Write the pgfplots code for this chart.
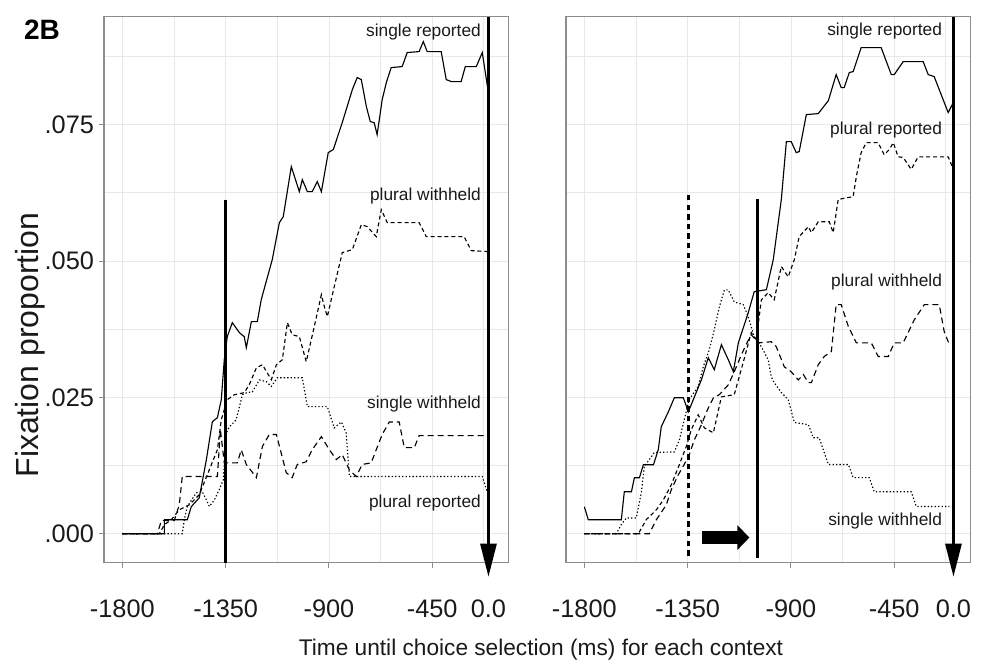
\documentclass[border=0pt]{standalone}
\usepackage{fontspec}
\setmainfont{Liberation Sans}
\usepackage{pgfplots}
\pgfplotsset{compat=1.18}
\usetikzlibrary{arrows.meta}

\definecolor{gridgray}{HTML}{E8E8E8}
\definecolor{framegray}{HTML}{8C8C8C}
\definecolor{txt}{HTML}{1A1A1A}

\pgfplotsset{panel/.style={
  width=303.5pt, height=409.5pt, scale only axis,
  xmin=-1880, xmax=-117, ymin=-0.0053, ymax=0.0948,
  scaled x ticks=false, scaled y ticks=false,
  xtick={-1800,-1350,-900,-450}, xticklabels={-1800,-1350,-900,-450},
  minor xtick={-1575,-1125,-675,-225},
  ytick={0,0.025,0.05,0.075},
  minor ytick={0.0125,0.0375,0.0625,0.0875},
  grid=both,
  major grid style={gridgray, line width=0.6pt},
  minor grid style={gridgray, line width=0.6pt},
  axis line style={framegray, line width=0.8pt},
  tick style={framegray, line width=0.7pt},
  major tick length=4pt, minor tick length=0pt,
  tick align=outside, xtick pos=bottom, ytick pos=left,
  ticklabel style={font=\fontsize{19}{22}\selectfont, text=txt},
  xticklabel style={yshift=-20pt},
  extra x tick style={grid=none, tick style={draw=none}},
  clip=false,
  every axis plot/.append style={line width=0.85pt, black, mark=none},
}}

\tikzset{
  dashA/.style={dash pattern=on 3pt off 2.2pt},
  dashB/.style={dash pattern=on 4.5pt off 3pt},
  dotC/.style={dash pattern=on 1pt off 1.6pt},
  ann/.style={font=\fontsize{13}{15}\selectfont, text=txt, anchor=east, inner sep=0pt},
}

\begin{document}
\begin{tikzpicture}
\path[use as bounding box] (0,0) rectangle (735.75pt,499.5pt);

% ---------------- left panel ----------------
\begin{axis}[panel, at={(78pt,77.5pt)}, anchor=south west,
  yticklabels={.000,.025,.050,.075},
  extra x ticks={-205}, extra x tick labels={0.0}]
% single reported
\addplot[solid] coordinates {(-1800,0) (-1617,0) (-1617,0.00257) (-1517,0.00257) (-1500,0.00495) (-1465,0.0066) (-1434,0.01357) (-1408,0.02054) (-1386,0.02127) (-1369,0.02458) (-1356,0.03191) (-1343,0.03613) (-1321,0.0387) (-1290,0.03686) (-1269,0.03613) (-1260,0.03411) (-1238,0.03888) (-1212,0.03888) (-1195,0.04292) (-1147,0.05025) (-1116,0.05704) (-1099,0.05814) (-1064,0.06731) (-1029,0.06272) (-1016,0.06492) (-994,0.06272) (-973,0.06272) (-951,0.06456) (-933,0.06272) (-903,0.06988) (-881,0.07043) (-842,0.07538) (-798,0.08143) (-777,0.08363) (-759,0.08326) (-737,0.07831) (-720,0.07556) (-703,0.07538) (-690,0.07318) (-668,0.0796) (-650,0.08271) (-629,0.08546) (-581,0.08565) (-559,0.08822) (-507,0.0884) (-489,0.09023) (-472,0.0884) (-411,0.0884) (-389,0.08326) (-367,0.0829) (-324,0.0829) (-306,0.08565) (-258,0.08565) (-232,0.08822) (-206,0.08106)};
% plural withheld
\addplot[dashA] coordinates {(-1800,0) (-1639,0) (-1617,0.00165) (-1587,0.00257) (-1552,0.0044) (-1508,0.00532) (-1465,0.00715) (-1421,0.01174) (-1386,0.01541) (-1369,0.02091) (-1343,0.02458) (-1312,0.02549) (-1269,0.02586) (-1247,0.02733) (-1216,0.03044) (-1190,0.03099) (-1151,0.02824) (-1129,0.03099) (-1103,0.03191) (-1081,0.0387) (-1060,0.0365) (-1029,0.03613) (-999,0.03154) (-964,0.03796) (-933,0.04383) (-920,0.04163) (-907,0.0398) (-885,0.04383) (-842,0.05154) (-798,0.05209) (-759,0.05667) (-733,0.0563) (-694,0.05447) (-672,0.05942) (-646,0.05704) (-507,0.05704) (-476,0.05447) (-311,0.05447) (-280,0.0519) (-202,0.05172)};
% single withheld
\addplot[dashB] coordinates {(-1800,0) (-1648,0) (-1630,0.0024) (-1574,0.0024) (-1552,0.0053) (-1539,0.0105) (-1386,0.0105) (-1373,0.0191) (-1356,0.0130) (-1299,0.0130) (-1282,0.0154) (-1260,0.0127) (-1216,0.0103) (-1190,0.0160) (-1160,0.0182) (-1129,0.0182) (-1086,0.0112) (-1060,0.0103) (-1038,0.0127) (-999,0.0132) (-973,0.0154) (-933,0.0178) (-898,0.0154) (-868,0.0136) (-842,0.0145) (-811,0.0117) (-781,0.0105) (-755,0.0127) (-716,0.0130) (-694,0.0154) (-668,0.0182) (-637,0.0205) (-594,0.0205) (-572,0.0158) (-528,0.0158) (-507,0.0180) (-215,0.0180)};
% plural reported
\addplot[dotC] coordinates {(-1800,0) (-1539,0) (-1530,0.0026) (-1517,0.0050) (-1478,0.0075) (-1452,0.0077) (-1434,0.0062) (-1421,0.0050) (-1399,0.0062) (-1378,0.0081) (-1360,0.0099) (-1347,0.0185) (-1334,0.0196) (-1304,0.0209) (-1277,0.0255) (-1256,0.0259) (-1234,0.0260) (-1203,0.0282) (-1173,0.0279) (-1151,0.0270) (-1125,0.0286) (-1016,0.0286) (-994,0.0233) (-907,0.0233) (-877,0.0194) (-846,0.0205) (-825,0.0185) (-811,0.0105) (-232,0.0105) (-211,0.0077)};
% reference lines
\addplot[line width=2.3pt] coordinates {(-1350,-0.0053) (-1350,0.0611)};
\addplot[line width=2.3pt, -{Triangle[length=25pt,width=12pt]}] coordinates {(-205,0.0948) (-205,-0.0079)};
\node[ann] at (axis cs:-237,0.0919) {single reported};
\node[ann] at (axis cs:-237,0.0620) {plural withheld};
\node[ann] at (axis cs:-237,0.0237) {single withheld};
\node[ann] at (axis cs:-237,0.0057) {plural reported};
\end{axis}

% ---------------- right panel ----------------
\begin{axis}[panel, at={(424.5pt,77.5pt)}, anchor=south west,
  yticklabels={}, ytick style={draw=none},
  extra x ticks={-192}, extra x tick labels={0.0}]
% single reported
\addplot[solid] coordinates {(-1800,0.00495) (-1783,0.00257) (-1639,0.00257) (-1626,0.0077) (-1595,0.0077) (-1582,0.01027) (-1560,0.01027) (-1543,0.01265) (-1499,0.01265) (-1478,0.01541) (-1465,0.01962) (-1434,0.02237) (-1408,0.02494) (-1369,0.02494) (-1347,0.02237) (-1290,0.02824) (-1260,0.03228) (-1234,0.03008) (-1203,0.03466) (-1173,0.03191) (-1151,0.02971) (-1129,0.03503) (-1086,0.04053) (-1060,0.04438) (-1007,0.04475) (-977,0.05025) (-942,0.06126) (-920,0.07189) (-899,0.07189) (-877,0.06988) (-864,0.07006) (-833,0.07684) (-781,0.07703) (-737,0.07941) (-703,0.08418) (-681,0.0818) (-668,0.0818) (-646,0.08455) (-629,0.08473) (-594,0.08913) (-507,0.08913) (-463,0.08418) (-450,0.08418) (-411,0.08656) (-324,0.08656) (-302,0.08418) (-276,0.08381) (-215,0.07721) (-193,0.07905)};
% plural reported
\addplot[dashA] coordinates {(-1800,0) (-1565,0) (-1530,0.0026) (-1486,0.0044) (-1456,0.0062) (-1421,0.0090) (-1386,0.0127) (-1356,0.0160) (-1334,0.0191) (-1304,0.0218) (-1277,0.0194) (-1238,0.0185) (-1203,0.0251) (-1147,0.0255) (-1108,0.0314) (-1073,0.0369) (-1051,0.0356) (-1029,0.0429) (-999,0.0442) (-973,0.0429) (-942,0.0490) (-912,0.0471) (-885,0.0503) (-864,0.0545) (-824,0.0563) (-811,0.0552) (-781,0.0572) (-733,0.0572) (-716,0.0552) (-694,0.0613) (-629,0.0618) (-615,0.0655) (-594,0.0699) (-572,0.0717) (-520,0.0717) (-494,0.0695) (-472,0.0704) (-454,0.0717) (-433,0.0691) (-411,0.0690) (-376,0.0668) (-346,0.0691) (-215,0.0691) (-197,0.0673)};
% plural withheld
\addplot[dashB] coordinates {(-1800,0) (-1517,0) (-1486,0.0026) (-1443,0.0053) (-1421,0.0081) (-1391,0.0108) (-1365,0.0127) (-1343,0.0145) (-1321,0.0172) (-1290,0.0200) (-1264,0.0227) (-1238,0.0249) (-1212,0.0255) (-1173,0.0273) (-1147,0.0297) (-1116,0.0328) (-1095,0.0347) (-1073,0.0365) (-1042,0.0350) (-986,0.0352) (-964,0.0343) (-929,0.0306) (-899,0.0297) (-868,0.0282) (-846,0.0292) (-824,0.0277) (-811,0.0277) (-781,0.0310) (-755,0.0325) (-724,0.0334) (-703,0.0420) (-681,0.0420) (-650,0.0380) (-615,0.0350) (-550,0.0350) (-520,0.0325) (-476,0.0325) (-450,0.0350) (-411,0.0350) (-363,0.0392) (-319,0.0420) (-254,0.0420) (-232,0.0370) (-210,0.0347)};
% single withheld
\addplot[dotC] coordinates {(-1800,0) (-1661,0) (-1639,0.0017) (-1617,0.0029) (-1574,0.0029) (-1552,0.0075) (-1539,0.0123) (-1495,0.0149) (-1408,0.0150) (-1386,0.0172) (-1365,0.0209) (-1343,0.0246) (-1304,0.0270) (-1282,0.0306) (-1256,0.0337) (-1234,0.0374) (-1212,0.0416) (-1190,0.0447) (-1173,0.0447) (-1147,0.0425) (-1108,0.0420) (-1086,0.0398) (-1060,0.0361) (-1029,0.0343) (-999,0.0319) (-986,0.0288) (-973,0.0277) (-942,0.0259) (-912,0.0246) (-885,0.0204) (-824,0.0200) (-803,0.0176) (-777,0.0176) (-737,0.0127) (-650,0.0127) (-629,0.0103) (-559,0.0103) (-537,0.0077) (-376,0.0077) (-354,0.0050) (-210,0.0050)};
% reference lines
\addplot[line width=2.7pt, dash pattern=on 4pt off 3.2pt] coordinates {(-1347,-0.0040) (-1347,0.0622)};
\addplot[line width=2.3pt] coordinates {(-1046,-0.0044) (-1046,0.0614)};
\addplot[line width=2.3pt, -{Triangle[length=25pt,width=12pt]}] coordinates {(-192,0.0948) (-192,-0.0079)};
\addplot[line width=10pt, -{Triangle[length=9pt,width=18pt]}] coordinates {(-1286,-0.0007) (-1081,-0.0007)};
\node[ann] at (axis cs:-241,0.0921) {single reported};
\node[ann] at (axis cs:-241,0.0741) {plural reported};
\node[ann] at (axis cs:-241,0.0462) {plural withheld};
\node[ann] at (axis cs:-241,0.0024) {single withheld};
\end{axis}

% ---------------- labels ----------------
\node[rotate=90, anchor=base, font=\fontsize{24}{28}\selectfont, text=txt] at (28.5pt,240.75pt) {Fixation proportion};
\node[font=\fontsize{17}{20}\selectfont, text=txt] at (405.75pt,12pt) {Time until choice selection (ms) for each context};
\node[font=\bfseries\fontsize{21}{24}\selectfont, text=black] at (31.5pt,477pt) {2B};
\end{tikzpicture}
\end{document}
